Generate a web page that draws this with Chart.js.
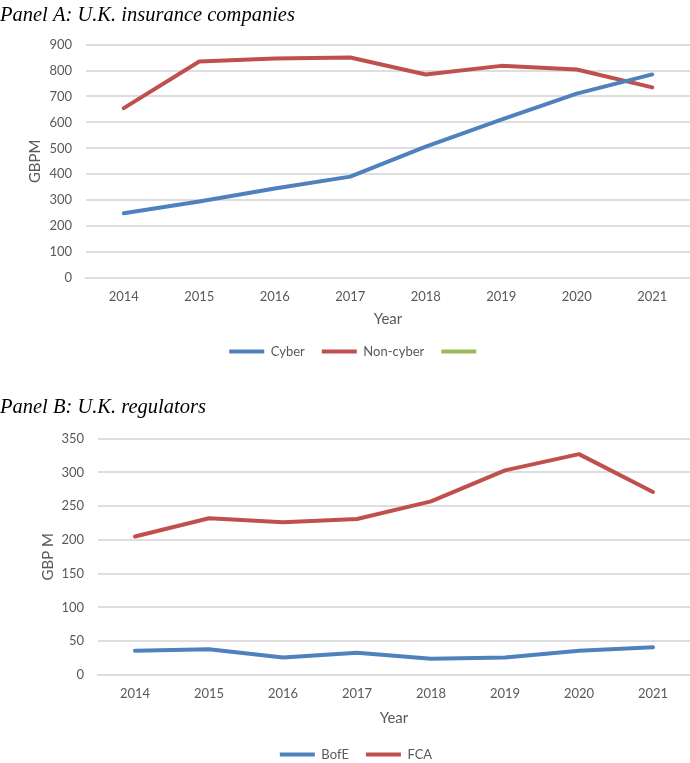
<!DOCTYPE html>
<html>
<head>
<meta charset="utf-8">
<script src="https://cdn.jsdelivr.net/npm/chart.js@4/dist/chart.umd.min.js"></script>
<style>
  html, body { margin: 0; padding: 0; background: #fff; overflow: hidden; }
  .panel { position: absolute; left: 0; width: 690px; }
</style>
</head>
<body>
<div class="panel" style="top:0;height:368px"><canvas id="chartA"></canvas></div>
<div class="panel" style="top:390px;height:381px"><canvas id="chartB"></canvas></div>
<script>
const years = ['2014', '2015', '2016', '2017', '2018', '2019', '2020', '2021'];

// Panel A: U.K. insurance companies (GBP m)
const cyber = [250, 295, 345, 391, 507, 611, 711, 785];
const nonCyber = [655, 835, 846, 850, 785, 818, 804, 735];
const blankSeries = [];

// Panel B: U.K. regulators (GBP m)
const bofe = [36, 38, 26, 33, 24, 26, 36, 41];
const fca = [205, 232, 226, 231, 257, 303, 327, 271];

const BLUE = '#4F81BD';
const RED = '#C0504D';
const GREEN = '#9BBB59';
const GREY = '#595959';
const GRID = '#dedede';

// nudges the bottom legend sideways (Excel centres it on the plot area)
const legendShift = {
    id: 'legendShift',
    afterLayout(chart, args, opts) {
        chart.legend.left += opts.dx;
        chart.legend.right += opts.dx;
    }
};

const series = (label, data, color) => ({
    label: label,
    data: data,
    borderColor: color,
    backgroundColor: color,
    borderWidth: 4,
    pointRadius: 0,
    tension: 0,
    borderCapStyle: 'round',
    borderJoinStyle: 'round'
});

const makeChart = (id, datasets, cfg) => {
    const ctx = document.getElementById(id).getContext('2d');
    return new Chart(ctx, {
        type: 'line',
        data: { labels: years, datasets: datasets },
        plugins: [legendShift],
        options: {
            responsive: true,
            maintainAspectRatio: false,
            animation: false,
            layout: { padding: 0 },
            plugins: {
                title: {
                    display: true,
                    text: cfg.title,
                    align: 'start',
                    color: '#000',
                    font: { family: 'Liberation Serif', style: 'italic', size: 20.5, weight: 'normal' },
                    padding: cfg.titlePad
                },
                legend: {
                    position: 'bottom',
                    labels: {
                        boxWidth: 35,
                        boxHeight: 4,
                        padding: 17,
                        color: GREY,
                        font: { family: 'Lato', size: 13 },
                        generateLabels: (chart) => Chart.defaults.plugins.legend.labels.generateLabels(chart)
                            .map(item => Object.assign(item, { lineWidth: 0, fillStyle: item.strokeStyle }))
                    }
                },
                legendShift: { dx: 11 },
                tooltip: { enabled: false }
            },
            scales: {
                x: {
                    offset: true,
                    grid: { display: false, drawTicks: false },
                    border: { display: true, color: GRID, width: 2 },
                    ticks: { color: GREY, padding: 11, font: { family: 'Lato', size: 13 } },
                    title: {
                        display: true, text: 'Year', color: GREY,
                        font: { family: 'Lato', size: 15 },
                        padding: { top: 0, bottom: cfg.yearPad }
                    },
                    afterFit: (s) => { s.height = cfg.xHeight; }
                },
                y: {
                    min: 0,
                    max: cfg.max,
                    grid: { color: GRID, lineWidth: 2, drawTicks: false },
                    border: { display: false },
                    ticks: { stepSize: cfg.step, color: GREY, padding: 14, font: { family: 'Lato', size: 13 } },
                    title: {
                        display: true, text: cfg.yTitle, color: GREY,
                        font: { family: 'Lato', size: 15 },
                        padding: { top: cfg.yTitleOffset, bottom: 0 }
                    },
                    afterFit: (s) => { s.width = cfg.yWidth; }
                }
            }
        }
    });
};

makeChart('chartA', [
    series('Cyber', cyber, BLUE),
    series('Non-cyber', nonCyber, RED),
    series('', blankSeries, GREEN)
], {
    title: 'Panel A: U.K. insurance companies',
    titlePad: { top: 3, bottom: 17 },
    yTitle: 'GBPM', yTitleOffset: 26, yWidth: 86,
    max: 900, step: 100,
    xHeight: 50, yearPad: 0
});

makeChart('chartB', [
    series('BofE', bofe, BLUE),
    series('FCA', fca, RED)
], {
    title: 'Panel B: U.K. regulators',
    titlePad: { top: 5, bottom: 19 },
    yTitle: 'GBP M', yTitleOffset: 39, yWidth: 98,
    max: 350, step: 50,
    xHeight: 56, yearPad: 4
});
</script>
</body>
</html>
